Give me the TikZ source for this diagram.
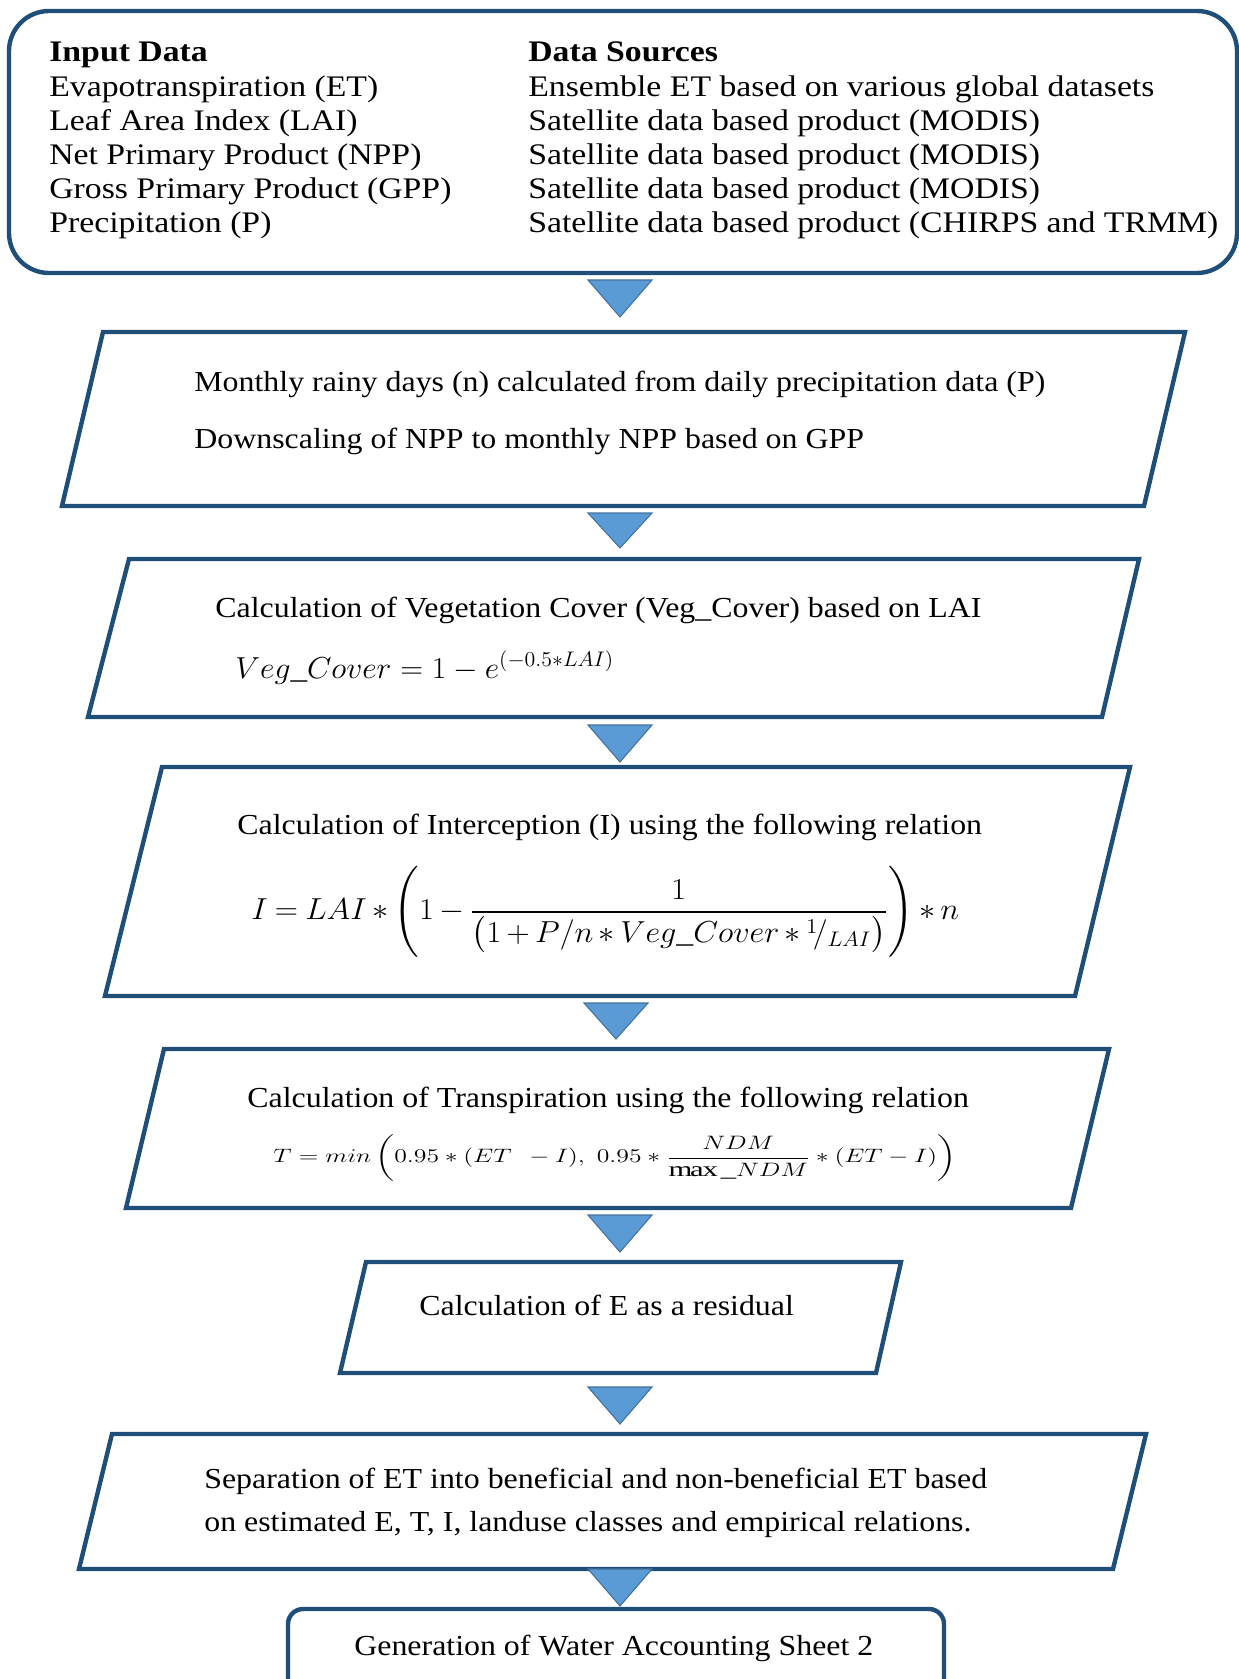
\documentclass[tikz,border=0pt]{standalone}
\usepackage{fontspec}
\usepackage{amsmath}
\usepackage{graphicx}
\setmainfont[FakeStretch=1.1]{Liberation Serif}
\newfontfamily\topfont[FakeStretch=1.13]{Liberation Serif}
\definecolor{boxblue}{RGB}{31,78,121}
\definecolor{arrowblue}{RGB}{91,155,213}
\definecolor{arrowedge}{RGB}{65,113,156}

\begin{document}
\begin{tikzpicture}[x=0.02cm, y=-0.02cm,
    stepbox/.style={draw=boxblue, line width=2.5pt, line join=miter},
    blockarrow/.style={fill=arrowblue, draw=arrowedge, line width=0.6pt},
    toptext/.style={anchor=base west, inner sep=0pt, font=\topfont\fontsize{17}{20}\selectfont},
    boxtext/.style={anchor=base west, inner sep=0pt, font=\fontsize{16.5}{20}\selectfont}]
  \useasboundingbox (0,0) rectangle (1239,1679);

  % input data table
  \draw[stepbox, rounded corners=0.8cm] (9,11) rectangle (1237,273);
  \node[toptext, font=\topfont\bfseries\fontsize{17}{20}\selectfont] (inphead) at (49,62) {Input Data};
  \node[toptext, font=\topfont\bfseries\fontsize{17}{20}\selectfont] (srchead) at (528,62) {Data Sources};
  \foreach \inp/\src [count=\k] in {Evapotranspiration (ET)/Ensemble ET based on various global datasets,
      Leaf Area Index (LAI)/Satellite data based product (MODIS),
      Net Primary Product (NPP)/Satellite data based product (MODIS),
      Gross Primary Product (GPP)/Satellite data based product (MODIS),
      Precipitation (P)/Satellite data based product (CHIRPS and TRMM)} {
    \node[toptext] (inp\k) at (49,{62+34.2*\k}) {\inp};
    \node[toptext] (src\k) at (528,{62+34.2*\k}) {\src};
  }

  % processing steps
  \draw[stepbox] (103,332) -- (1185,332) -- (1144,506) -- (62,506) -- cycle;
  \node[boxtext] (rain) at (194,391) {Monthly rainy days (n) calculated from daily precipitation data (P)};
  \node[boxtext] (npp) at (194,448) {Downscaling of NPP to monthly NPP based on GPP};

  \draw[stepbox] (129,559) -- (1139,559) -- (1102,717) -- (88,717) -- cycle;
  \node[boxtext] (veg) at (215,617) {Calculation of Vegetation Cover (Veg\_Cover) based on LAI};
  \node[boxtext] (vegf) at (235,678) {\scalebox{1.04}[1]{$Veg\_Cover = 1 - e^{(-0.5*LAI)}$}};

  \draw[stepbox] (162,767) -- (1130,767) -- (1075,996) -- (105,996) -- cycle;
  \node[boxtext] (icpt) at (237,834) {Calculation of Interception (I) using the following relation};
  \node[boxtext, anchor=west] (icptf) at (251,912) {\scalebox{1.06}[1]{\thickmuskip=4mu\medmuskip=3mu$\displaystyle I = LAI * \Biggl(1 - \frac{1}{\bigl(1 + P/n * Veg\_Cover * {}^{1}\!/_{LAI}\bigr)}\Biggr) * n$}};

  \draw[stepbox] (164,1049) -- (1109,1049) -- (1071,1208) -- (126,1208) -- cycle;
  \node[boxtext] (trans) at (247,1107) {Calculation of Transpiration using the following relation};
  \node[boxtext, anchor=west, font=\fontsize{13}{15}\selectfont] (transf) at (273,1158) {\scalebox{1.22}[0.92]{$T = min\left(0.95 * (ET\ \, - I),\ 0.95 * \dfrac{NDM}{\max\_NDM} * (ET - I)\right)$}};

  \draw[stepbox] (366,1262) -- (901,1262) -- (876,1373) -- (340,1373) -- cycle;
  \node[boxtext] (evap) at (419,1315) {Calculation of E as a residual};

  \draw[stepbox] (112,1434) -- (1146,1434) -- (1113,1569) -- (79,1569) -- cycle;
  \node[boxtext] (sep1) at (204,1488) {Separation of ET into beneficial and non-beneficial ET based};
  \node[boxtext] (sep2) at (204,1531) {on estimated E, T, I, landuse classes and empirical relations.};

  \draw[stepbox, rounded corners=0.3cm] (288,1609) rectangle (944,1730);
  \node[boxtext] (sheet) at (354,1655) {Generation of Water Accounting Sheet 2};

  % block arrows between steps
  \foreach \ax/\at/\ab in {620/280/317, 620/513/548, 620/725/762, 616/1003/1039, 620/1215/1252, 620/1387/1424, 620/1569/1606}
    \draw[blockarrow] (\ax-32,\at) -- (\ax+32,\at) -- (\ax,\ab) -- cycle;
\end{tikzpicture}
\end{document}
